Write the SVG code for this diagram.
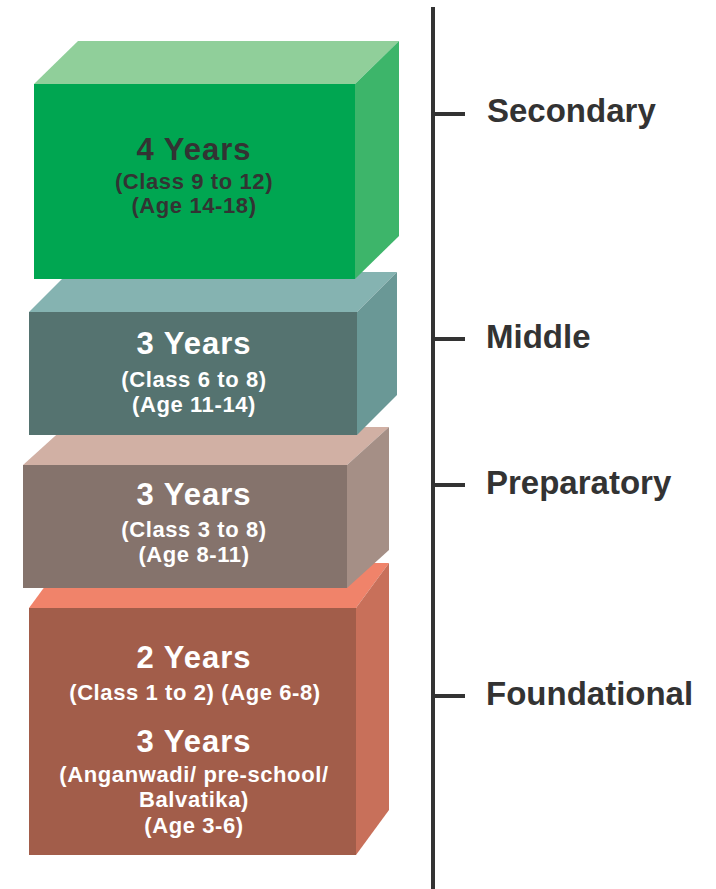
<svg xmlns="http://www.w3.org/2000/svg" width="716" height="889" viewBox="0 0 716 889">
<style>
  .big { font-family: "Liberation Sans", Arial, sans-serif; font-weight: bold; font-size: 31px; text-anchor: middle; letter-spacing: 1px; }
  .sub { font-family: "Liberation Sans", Arial, sans-serif; font-weight: bold; font-size: 22px; text-anchor: middle; letter-spacing: 0.6px; }
  .lbl { font-family: "Liberation Sans", Arial, sans-serif; font-weight: bold; font-size: 33px; fill: #333333; }
  .dark { fill: #333333; }
  .light { fill: #ffffff; }
  .axis { stroke: #333333; stroke-width: 4; fill: none; }
</style>
<rect width="716" height="889" fill="#ffffff"/>

<g id="foundational-box">
  <polygon points="29,608 62,563 389,563 356,608" fill="#F0836A"/>
  <polygon points="356,608 389,563 389,810 356,855" fill="#C8705A"/>
  <rect x="29" y="608" width="327" height="247" fill="#A25D4A"/>
  <text class="big light" x="194" y="668">2 Years</text>
  <text class="sub light" x="195" y="700">(Class 1 to 2) (Age 6-8)</text>
  <text class="big light" x="194" y="752">3 Years</text>
  <text class="sub light" x="194" y="782">(Anganwadi/ pre-school/</text>
  <text class="sub light" x="194" y="807">Balvatika)</text>
  <text class="sub light" x="194" y="833">(Age 3-6)</text>
</g>

<g id="preparatory-box">
  <polygon points="23,465 65,427 389,427 347,465" fill="#D1B0A4"/>
  <polygon points="347,465 389,427 389,550 347,588" fill="#A58F86"/>
  <rect x="23" y="465" width="324" height="123" fill="#85736C"/>
  <text class="big light" x="194" y="505">3 Years</text>
  <text class="sub light" x="194" y="537">(Class 3 to 8)</text>
  <text class="sub light" x="194" y="562">(Age 8-11)</text>
</g>

<g id="middle-box">
  <polygon points="29,312 69,272 397,272 357,312" fill="#85B3B1"/>
  <polygon points="357,312 397,272 397,395 357,435" fill="#6A9896"/>
  <rect x="29" y="312" width="328" height="123" fill="#557370"/>
  <text class="big light" x="194" y="354">3 Years</text>
  <text class="sub light" x="194" y="387">(Class 6 to 8)</text>
  <text class="sub light" x="194" y="412">(Age 11-14)</text>
</g>

<g id="secondary-box">
  <polygon points="34,84 78,41 399,41 355,84" fill="#90CF9A"/>
  <polygon points="355,84 399,41 399,236 355,279" fill="#3DB56A"/>
  <rect x="34" y="84" width="321" height="195" fill="#00A651"/>
  <text class="big dark" x="194" y="160">4 Years</text>
  <text class="sub dark" x="194" y="189">(Class 9 to 12)</text>
  <text class="sub dark" x="194" y="213">(Age 14-18)</text>
</g>

<g id="connectors">
  <line class="axis" x1="433" y1="7" x2="433" y2="889"/>
  <line class="axis" x1="433" y1="114" x2="465" y2="114"/>
  <line class="axis" x1="433" y1="339" x2="465" y2="339"/>
  <line class="axis" x1="433" y1="485" x2="465" y2="485"/>
  <line class="axis" x1="433" y1="696" x2="465" y2="696"/>
</g>

<g id="label-secondary"><text class="lbl" x="487" y="122">Secondary</text></g>
<g id="label-middle"><text class="lbl" x="486" y="348">Middle</text></g>
<g id="label-preparatory"><text class="lbl" x="486" y="494">Preparatory</text></g>
<g id="label-foundational"><text class="lbl" x="486" y="705">Foundational</text></g>
</svg>
